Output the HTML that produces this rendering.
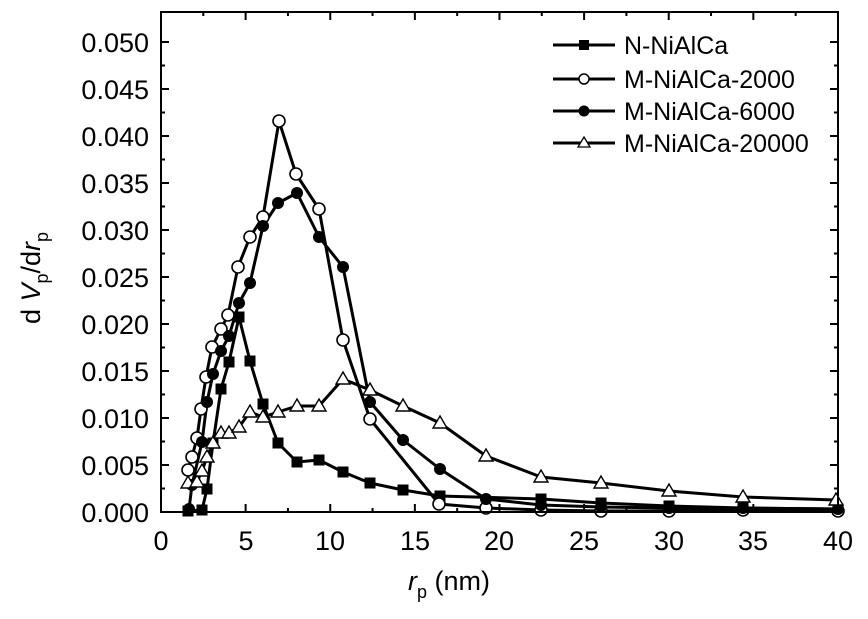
<!DOCTYPE html>
<html><head><style>body{margin:0;background:#fff}svg{display:block}text{font-family:"Liberation Sans",Arial,sans-serif;fill:#000}</style></head>
<body>
<svg width="868" height="619" viewBox="0 0 868 619" xmlns="http://www.w3.org/2000/svg">
<defs>
<rect id="sq" x="-5.5" y="-5.5" width="11" height="11" fill="#000"/>
<circle id="oc" r="6" fill="#fff" stroke="#000" stroke-width="1.6"/>
<circle id="fc" r="6" fill="#000"/>
<path id="tr" d="M0,-7 L7,5 L-7,5 Z" fill="#fff" stroke="#000" stroke-width="1.4"/>
</defs>
<g id="ticks" stroke="#000" stroke-width="2"></g>
<g fill="none" stroke="#000" stroke-width="3" stroke-linejoin="round">
<polyline id="l1" points="188,511 202,510 207,489 213,443 221,389 229,362 239,317 250,361 263,404 278,443 297,462 319,460 343,472 370,483 403,490 440,496 541,499 601,503 669,506 743,508 838,509"/>
<polyline id="l2" points="188,470 192,457 197,438 201,409 206,377 212,347 221,329 228,315 238,267 250,237 263,217 279,121 296,174 319,209 343,340 370,419 439,504 486,508 541,510 601,511 669,511 743,510 838,511"/>
<polyline id="l3" points="189,509 192,485 202,442 207,402 213,374 221,351 229,336 239,303 250,283 263,226 278,203 297,193 319,237 343,267 370,402 403,440 440,469 486,499 541,505 601,507 669,508 743,508 838,509"/>
<polyline id="l4" points="188,483 197,482 202,471 207,457 213,443 221,433 229,433 239,427 250,412 263,417 278,412 297,406 319,406 343,379 370,390 403,406 440,423 486,456 541,477 601,483 669,491 743,497 836,500"/>
</g>
<g id="marks"></g>
<rect x="161" y="12" width="677" height="500" fill="none" stroke="#000" stroke-width="2"/>
<g font-size="27" text-anchor="end">
<text x="149" y="522">0.000</text><text x="149" y="475">0.005</text><text x="149" y="428">0.010</text><text x="149" y="381">0.015</text><text x="149" y="334">0.020</text><text x="149" y="287">0.025</text><text x="149" y="240">0.030</text><text x="149" y="193">0.035</text><text x="149" y="146">0.040</text><text x="149" y="99">0.045</text><text x="149" y="52">0.050</text>
</g>
<g font-size="27" text-anchor="middle">
<text x="161" y="550">0</text><text x="246" y="550">5</text><text x="330" y="550">10</text><text x="415" y="550">15</text><text x="499" y="550">20</text><text x="584" y="550">25</text><text x="669" y="550">30</text><text x="753" y="550">35</text><text x="838" y="550">40</text>
</g>
<text x="449" y="590" font-size="27" text-anchor="middle"><tspan font-style="italic">r</tspan><tspan font-size="18" dy="8">p</tspan><tspan dy="-8"> (nm)</tspan></text>
<text transform="translate(40,278) rotate(-90)" font-size="27" text-anchor="middle">d <tspan font-style="italic">V</tspan><tspan font-size="18" dy="8">p</tspan><tspan dy="-8">/d</tspan><tspan font-style="italic">r</tspan><tspan font-size="18" dy="8">p</tspan></text>
<g stroke="#000" stroke-width="3">
<line x1="553" y1="45" x2="615" y2="45"/><line x1="553" y1="79" x2="615" y2="79"/><line x1="553" y1="111" x2="615" y2="111"/><line x1="553" y1="143" x2="615" y2="143"/>
</g>
<rect x="579" y="40" width="10" height="10" fill="#000"/>
<circle cx="584" cy="79" r="5" fill="#fff" stroke="#000" stroke-width="1.5"/>
<circle cx="584" cy="111" r="5.5" fill="#000"/>
<path d="M584,137 L590,147 L578,147 Z" fill="#fff" stroke="#000" stroke-width="1.3"/>
<g font-size="25">
<text x="624" y="54">N-NiAlCa</text><text x="624" y="88">M-NiAlCa-2000</text><text x="624" y="120">M-NiAlCa-6000</text><text x="624" y="152">M-NiAlCa-20000</text>
</g>
<script>
var ns="http://www.w3.org/2000/svg";
var t=document.getElementById("ticks");
function ln(x1,y1,x2,y2){var l=document.createElementNS(ns,"line");l.setAttribute("x1",x1);l.setAttribute("y1",y1);l.setAttribute("x2",x2);l.setAttribute("y2",y2);t.appendChild(l);}
for(var i=0;i<=20;i++){var y=512-i*23.5;var L=i%2?4:8;ln(161,y,161+L,y);ln(838,y,838-L,y);}
for(var i=0;i<=16;i++){var x=161+i*42.31;var L=i%2?4:8;ln(x,512,x,512-L);ln(x,12,x,12+L);}
var m=document.getElementById("marks");
[["l1","sq"],["l2","oc"],["l3","fc"],["l4","tr"]].forEach(function(p){
var pts=document.getElementById(p[0]).getAttribute("points").trim().split(/\s+/);
pts.forEach(function(s){var a=s.split(",");var u=document.createElementNS(ns,"use");u.setAttribute("href","#"+p[1]);u.setAttribute("x",a[0]);u.setAttribute("y",a[1]);m.appendChild(u);});
});
</script>
</svg>
</body></html>
